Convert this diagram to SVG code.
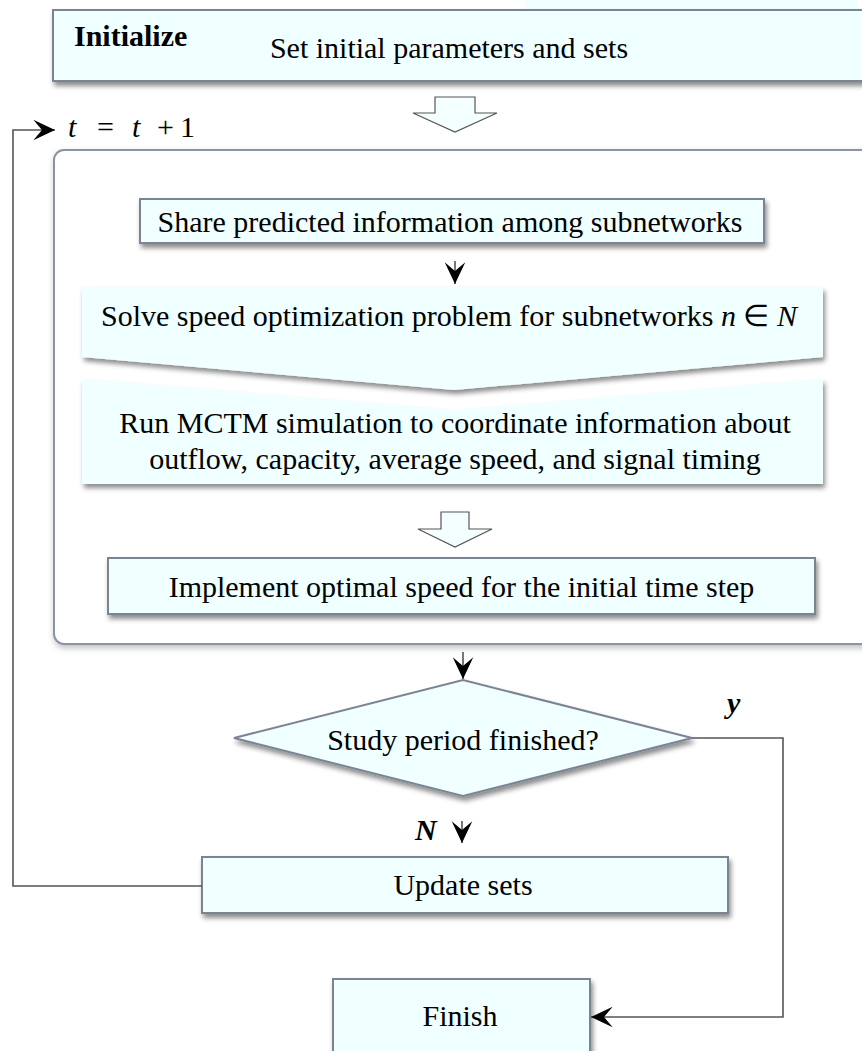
<svg xmlns="http://www.w3.org/2000/svg" width="862" height="1051" viewBox="0 0 862 1051">
<defs>
<filter id="sh" x="-10%" y="-20%" width="130%" height="160%">
<feDropShadow dx="2" dy="4" stdDeviation="2.5" flood-color="#000" flood-opacity="0.45"/>
</filter>
<filter id="sh2" x="-10%" y="-10%" width="130%" height="130%">
<feDropShadow dx="1" dy="3" stdDeviation="3" flood-color="#000" flood-opacity="0.25"/>
</filter>
<marker id="ah" markerUnits="userSpaceOnUse" markerWidth="26" markerHeight="26" viewBox="-22 -11 24 22" refX="0" refY="0" orient="auto">
<path d="M0,0 L-20,-9.5 L-12,0 L-20,9.5 Z" fill="#000"/>
</marker>
</defs>
<style>
.box{fill:#f0ffff;stroke:#7a8494;stroke-width:2}
.pale{fill:#f0ffff}
.t{font-family:'Liberation Serif','Times New Roman',serif;font-size:30px;fill:#000}
.m{font-family:'Liberation Serif','Times New Roman',serif;font-style:italic;font-size:30px;fill:#000}
.c{text-anchor:middle}
.ln{fill:none;stroke:#555;stroke-width:1.6}
.hol{fill:#f4ffff;stroke:#555;stroke-width:1.2}
</style>

<rect x="525" y="0" width="333" height="9" class="pale"/>

<g id="container">
<rect x="54" y="150" width="830" height="494" rx="10" fill="#fff" stroke="#8a94a3" stroke-width="2" filter="url(#sh2)"/>
</g>

<g id="initialize">
<rect x="53" y="10" width="820" height="71" class="box" filter="url(#sh)"/>
<text x="74" y="46" class="t" font-weight="bold">Initialize</text>
<text x="449" y="58" class="t c">Set initial  parameters and sets</text>
</g>

<g id="arrow-top">
<path d="M435,97 H475 V113 H497 L455,132 L413,113 H435 Z" class="hol"/>
</g>

<g id="share">
<rect x="140" y="199" width="624" height="44" class="box" filter="url(#sh)"/>
<text x="450" y="232" class="t c">Share predicted information among subnetworks</text>
</g>

<g id="solve">
<path d="M82,287 H823 V357 L454,390 L82,357 Z" class="pale" filter="url(#sh)"/>
<text x="449" y="326" class="t c" font-size="29.5">Solve speed optimization problem for subnetworks <tspan class="m" font-size="29.5">n</tspan> ∈ <tspan class="m" font-size="29.5">N</tspan></text>
</g>

<g id="run">
<path d="M82,379 L454,410 L823,379 V484 H82 Z" class="pale" filter="url(#sh)"/>
<text x="455" y="433" class="t c">Run MCTM simulation to coordinate information about</text>
<text x="455" y="469" class="t c">outflow, capacity, average speed, and signal timing</text>
</g>

<g id="arrow-mid">
<path d="M441,512 H469 V529 H492 L455,547 L418,529 H441 Z" class="hol"/>
</g>

<g id="implement">
<rect x="108" y="558" width="707" height="56" class="box" filter="url(#sh)"/>
<text x="461.5" y="597" class="t c">Implement optimal speed for the initial  time step</text>
</g>

<g id="decision">
<polygon points="234,738 463,680 692,738 463,796" class="box" filter="url(#sh)"/>
<text x="463" y="750" class="t c">Study period finished?</text>
</g>

<g id="update">
<rect x="202" y="857" width="526" height="56" class="box" filter="url(#sh)"/>
<text x="463" y="895" class="t c">Update sets</text>
</g>

<g id="finish">
<rect x="333" y="979" width="257" height="90" class="box" filter="url(#sh)"/>
<text x="460" y="1026" class="t c">Finish</text>
</g>

<g id="connectors">
<path d="M202,886 H13 V130 H55" class="ln" marker-end="url(#ah)"/>
<path d="M692,738 H783 V1017 H591" class="ln" marker-end="url(#ah)"/>
<path d="M455,261 V284" class="ln" marker-end="url(#ah)"/>
<path d="M463,652 V679" class="ln" marker-end="url(#ah)"/>
<path d="M462,821 V843" class="ln" marker-end="url(#ah)"/>
</g>

<g id="labels">
<text x="68" y="137" class="m">t</text>
<text x="97" y="137" class="t" font-size="32">=</text>
<text x="132" y="137" class="m">t</text>
<text x="157" y="137" class="t" font-size="32">+</text>
<text x="180" y="137" class="t">1</text>
<text x="727" y="713" class="m" font-weight="bold">y</text>
<text x="415" y="840" class="m" font-weight="bold" font-size="26">N</text>
</g>
</svg>
